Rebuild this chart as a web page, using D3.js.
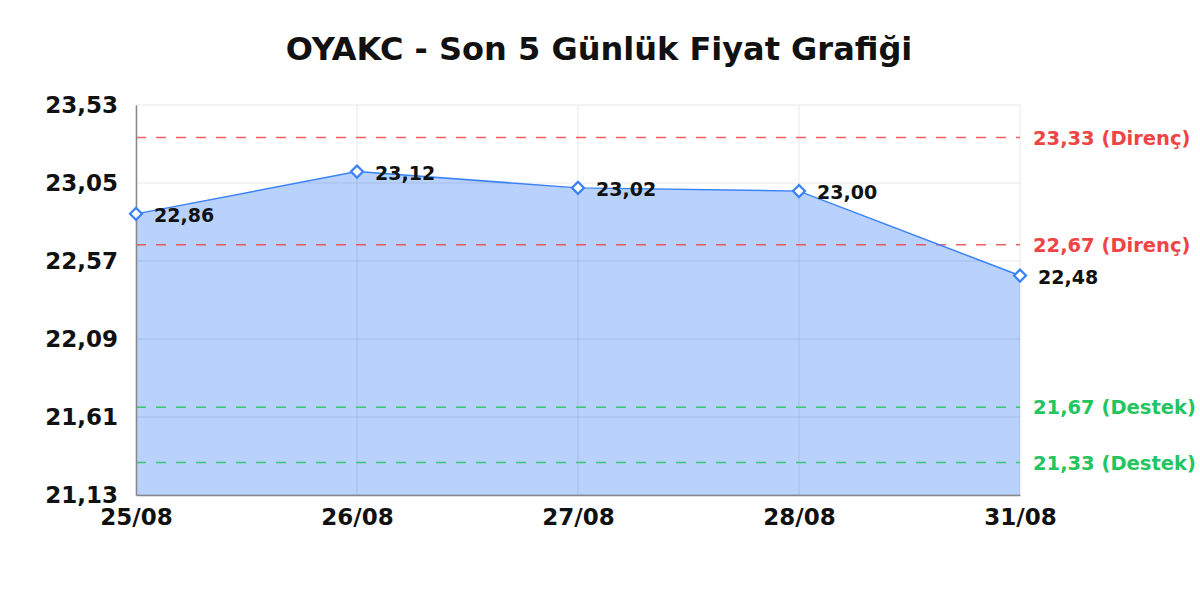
<!DOCTYPE html>
<html>
<head>
<meta charset="utf-8">
<script src="https://cdn.jsdelivr.net/npm/d3@7"></script>
<style>
  body { margin: 0; background: #fff; }
  text { font-family: "DejaVu Sans", sans-serif; font-weight: bold; }
</style>
</head>
<body>
<script>
// chart data
const dates = ["25/08", "26/08", "27/08", "28/08", "31/08"];
const prices = [22.86, 23.12, 23.02, 23.00, 22.48];
const yTicks = [21.13, 21.61, 22.09, 22.57, 23.05, 23.53];
const resistance = [23.33, 22.67];
const support = [21.67, 21.33];

const width = 1200, height = 600;
const margin = {top: 105, right: 180, bottom: 105, left: 136};

const tr = d3.formatLocale({decimal: ",", thousands: ".", grouping: [3], currency: ["", ""]});
const fmt = tr.format(".2f");

const svg = d3.select("body").append("svg")
    .attr("width", width)
    .attr("height", height);

const x = d3.scalePoint()
    .domain(dates)
    .range([margin.left, width - margin.right]);

const y = d3.scaleLinear()
    .domain([yTicks[0], yTicks[yTicks.length - 1]])
    .range([height - margin.bottom, margin.top]);

// title
svg.append("text")
    .attr("x", 599)
    .attr("y", 60)
    .attr("text-anchor", "middle")
    .style("font-size", "32px")
    .attr("fill", "#111")
    .text("OYAKC - Son 5 Günlük Fiyat Grafiği");

// area fill
const area = d3.area()
    .x((d, i) => x(dates[i]))
    .y0(y(yTicks[0]))
    .y1(d => y(d));

svg.append("path")
    .datum(prices)
    .attr("d", area)
    .attr("fill", "#3b82f6")
    .attr("fill-opacity", 0.36);

// grid
const grid = svg.append("g");
grid.selectAll(".hg")
    .data(yTicks)
    .enter().append("line")
    .attr("x1", margin.left)
    .attr("x2", width - margin.right)
    .attr("y1", d => y(d))
    .attr("y2", d => y(d))
    .attr("stroke", "#000")
    .attr("stroke-opacity", 0.09);
grid.selectAll(".vg")
    .data(dates)
    .enter().append("line")
    .attr("x1", d => x(d))
    .attr("x2", d => x(d))
    .attr("y1", margin.top)
    .attr("y2", height - margin.bottom)
    .attr("stroke", "#000")
    .attr("stroke-opacity", 0.09);

// support / resistance lines
function refLines(vals, color, label) {
    const g = svg.append("g");
    g.selectAll("line")
        .data(vals)
        .enter().append("line")
        .attr("x1", margin.left)
        .attr("x2", width - margin.right)
        .attr("y1", d => y(d))
        .attr("y2", d => y(d))
        .attr("stroke", color)
        .attr("stroke-opacity", 0.85)
        .attr("stroke-width", 1.6)
        .attr("stroke-dasharray", "10,10");
    g.selectAll("text")
        .data(vals)
        .enter().append("text")
        .attr("x", width - margin.right + 13)
        .attr("y", d => y(d))
        .attr("dy", "0.36em")
        .attr("fill", color)
        .style("font-size", "19.5px")
        .text(d => fmt(d) + " (" + label + ")");
}
refLines(resistance, "#ef4444", "Direnç");
refLines(support, "#22c55e", "Destek");

// axes
const yAxis = svg.append("g")
    .attr("transform", "translate(" + margin.left + ",0)")
    .call(d3.axisLeft(y).tickValues(yTicks).tickFormat(fmt).tickSize(0).tickPadding(18));
yAxis.select(".domain").attr("stroke", "#888").attr("stroke-width", 1.5);
yAxis.selectAll("text").style("font-size", "23px").attr("fill", "#111");

const xAxis = svg.append("g")
    .attr("transform", "translate(0," + (height - margin.bottom) + ")")
    .call(d3.axisBottom(x).tickSize(0).tickPadding(14));
xAxis.select(".domain").attr("stroke", "#888").attr("stroke-width", 1.5);
xAxis.selectAll("text").style("font-size", "23px").attr("fill", "#111");

// price line
const line = d3.line()
    .x((d, i) => x(dates[i]))
    .y(d => y(d));

svg.append("path")
    .datum(prices)
    .attr("d", line)
    .attr("fill", "none")
    .attr("stroke", "#3b82f6")
    .attr("stroke-width", 1.5);

// markers
svg.selectAll(".pt")
    .data(prices)
    .enter().append("path")
    .attr("class", "pt")
    .attr("d", d3.symbol().type(d3.symbolSquare).size(72))
    .attr("transform", (d, i) => "translate(" + x(dates[i]) + "," + y(d) + ") rotate(45)")
    .attr("fill", "#fff")
    .attr("stroke", "#3b82f6")
    .attr("stroke-width", 2.2);

// value labels
svg.selectAll(".vl")
    .data(prices)
    .enter().append("text")
    .attr("class", "vl")
    .attr("x", (d, i) => x(dates[i]) + 18)
    .attr("y", d => y(d))
    .attr("dy", "0.42em")
    .style("font-size", "19px")
    .attr("fill", "#111")
    .text(d => fmt(d));
</script>
</body>
</html>
